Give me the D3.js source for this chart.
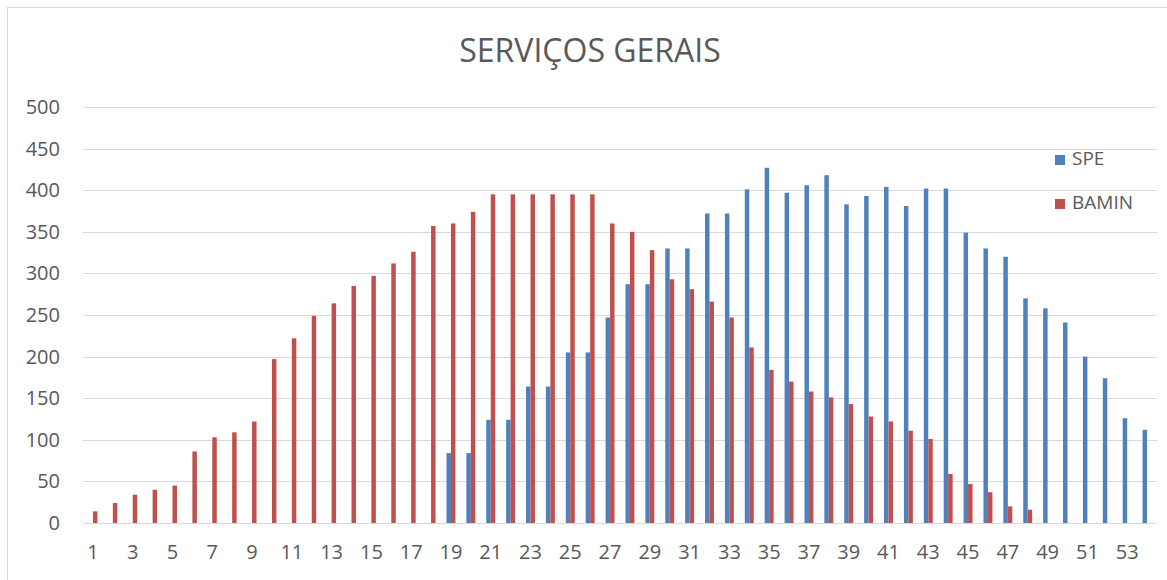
<!DOCTYPE html>
<html>
<head>
<meta charset="utf-8">
<script src="https://cdn.jsdelivr.net/npm/d3@7"></script>
<style>
  body { margin: 0; background: #fff; }
  text { font-family: "Open Sans", sans-serif; fill: #595959; }
</style>
</head>
<body>
<svg id="chart" width="1167" height="580"></svg>
<script>
// weeks 1..54
var weeks = d3.range(1, 55);
var seriesNames = ["SPE", "BAMIN"];
var yTicks = [0, 50, 100, 150, 200, 250, 300, 350, 400, 450, 500];

var spe = [0, 0, 0, 0, 0, 0, 0, 0, 0, 0,
           0, 0, 0, 0, 0, 0, 0, 0, 84, 84,
           124, 124, 164, 164, 205, 205, 247, 287, 287, 330,
           330, 372, 372, 401, 427, 397, 406, 418, 383, 393,
           404, 381, 402, 402, 349, 330, 320, 270, 258, 241,
           200, 174, 126, 112];

var bamin = [14, 24, 34, 40, 45, 86, 103, 109, 122, 197,
             222, 249, 264, 285, 297, 312, 326, 357, 360, 374,
             395, 395, 395, 395, 395, 395, 360, 350, 328, 293,
             281, 266, 247, 211, 184, 170, 158, 151, 143, 128,
             122, 111, 101, 59, 47, 37, 20, 16, 0, 0,
             0, 0, 0, 0];

var colors = {"SPE": "#4f81bd", "BAMIN": "#c0504d"};
var margin = {l: 83, r: 10, t: 107, b: 57};

var svg = d3.select("#chart");
var W = +svg.attr("width"), H = +svg.attr("height");

// chart border (runs off the right / bottom edge)
svg.append("rect")
  .attr("x", 7.5).attr("y", 7.5)
  .attr("width", W + 20).attr("height", H + 20)
  .attr("fill", "#fff")
  .attr("stroke", "#d9d9d9");

var x = d3.scaleBand()
  .domain(weeks)
  .range([margin.l, W - margin.r])
  .paddingInner(0.55)
  .paddingOuter(0.275);

var xs = d3.scaleBand()
  .domain(seriesNames)
  .range([0, x.bandwidth()]);

var y = d3.scaleLinear()
  .domain([0, 500])
  .range([H - margin.b, margin.t]);

// gridlines
svg.append("g")
  .selectAll("line")
  .data(yTicks)
  .enter().append("line")
  .attr("x1", margin.l).attr("x2", W - margin.r)
  .attr("y1", function(d){ return Math.round(y(d)) + 0.5; })
  .attr("y2", function(d){ return Math.round(y(d)) + 0.5; })
  .attr("stroke", "#d9d9d9");

// y labels
var yAxis = d3.axisLeft(y).tickValues(yTicks).tickSize(0).tickPadding(0);
var gy = svg.append("g")
  .attr("transform", "translate(60,0)")
  .call(yAxis);
gy.select(".domain").remove();
gy.selectAll("text").style("font-size", "20px").attr("fill", "#595959");

// x labels, every other week
var xAxis = d3.axisBottom(x)
  .tickValues(weeks.filter(function(d){ return d % 2 == 1; }))
  .tickSize(0).tickPadding(0);
var gx = svg.append("g")
  .attr("transform", "translate(0," + (H - margin.b + 22) + ")")
  .call(xAxis);
gx.select(".domain").remove();
gx.selectAll("text").style("font-size", "20px").attr("fill", "#595959");

// bars
var rows = weeks.map(function(w, i){
  return {week: w, values: [{key: "SPE", v: spe[i]}, {key: "BAMIN", v: bamin[i]}]};
});

var groups = svg.append("g").selectAll("g")
  .data(rows)
  .enter().append("g")
  .attr("transform", function(d){ return "translate(" + x(d.week) + ",0)"; });

groups.selectAll("rect")
  .data(function(d){ return d.values.filter(function(e){ return e.v > 0; }); })
  .enter().append("rect")
  .attr("x", function(d){ return xs(d.key); })
  .attr("width", xs.bandwidth())
  .attr("y", function(d){ return y(d.v); })
  .attr("height", function(d){ return y(0) - y(d.v); })
  .attr("fill", function(d){ return colors[d.key]; });

// title
svg.append("text")
  .attr("x", 590).attr("y", 62)
  .attr("text-anchor", "middle")
  .style("font-size", "32px")
  .text("SERVIÇOS GERAIS");

// legend
var legend = svg.append("g").selectAll("g")
  .data(seriesNames)
  .enter().append("g")
  .attr("transform", function(d, i){ return "translate(1055," + (165 + i * 44) + ")"; });

legend.append("rect")
  .attr("x", 0).attr("y", -10)
  .attr("width", 10).attr("height", 10)
  .attr("fill", function(d){ return colors[d]; });

legend.append("text")
  .attr("x", 17).attr("y", 0)
  .style("font-size", "19px")
  .text(function(d){ return d; });
</script>
</body>
</html>
